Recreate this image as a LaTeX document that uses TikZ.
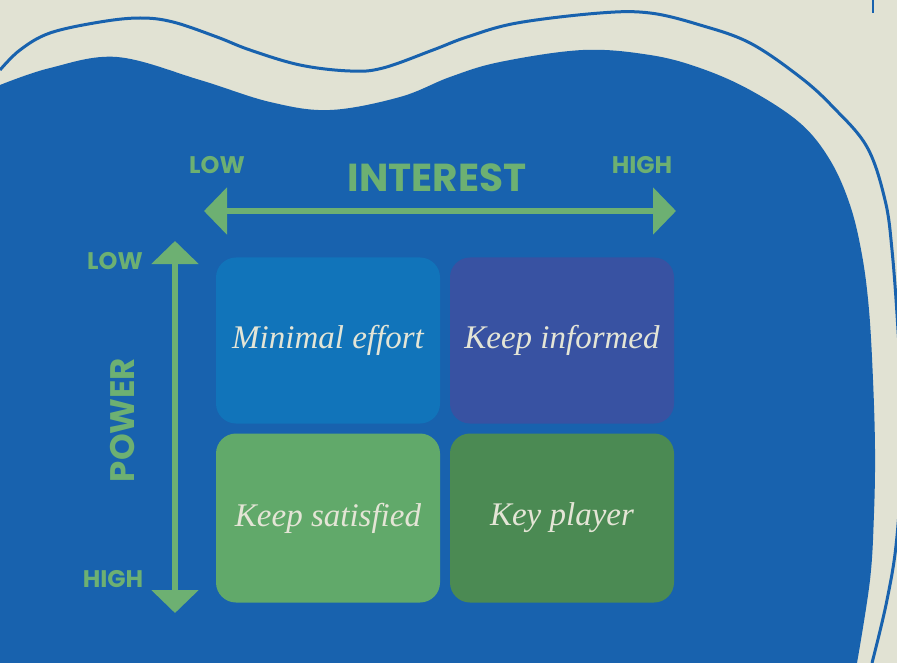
\documentclass[tikz,border=0pt]{standalone}
\usepackage{fontspec}
\setmainfont{Liberation Serif}
\newfontfamily\chunkyfont{Poppins}
\usetikzlibrary{positioning, arrows.meta}
\definecolor{paper}{HTML}{E1E2D3}
\definecolor{sea}{HTML}{1862AE}
\definecolor{leaf}{HTML}{6DB072}
\definecolor{cream}{HTML}{E4E5D6}
\definecolor{quadA}{HTML}{1174BA}
\definecolor{quadB}{HTML}{3852A2}
\definecolor{quadC}{HTML}{61A96A}
\definecolor{quadD}{HTML}{4B8A53}

\begin{document}
\begin{tikzpicture}
	[x=1pt, y=-1pt,
	 quad/.style={rectangle, rounded corners=20pt, outer sep=0pt, inner sep=0pt,
	              minimum width=224pt, minimum height=166pt, text=cream,
	              font=\fontsize{33}{38}\selectfont\itshape},
	 tag/.style={text=leaf, inner sep=0pt, font=\chunkyfont\bfseries\fontsize{24}{28}\selectfont},
	 bigtag/.style={tag, font=\chunkyfont\bfseries\fontsize{39}{44}\selectfont},
	 axis/.style={draw=leaf, line width=6pt,
	              {Triangle[length=23pt, width=46pt]}-{Triangle[length=23pt, width=46pt]}},
	 node distance=10pt]
	\useasboundingbox (0,0) rectangle (897,663);
	\clip (0,0) rectangle (897,663);
	\fill[paper] (0,0) rectangle (897,663);

	% background wave and its outline
	\fill[sea] (0,663) -- plot[smooth, tension=0.6] coordinates {(0,85) (50,68) (117,57) (200,80)
		(270,102) (330,110) (400,97) (450,77) (500,62) (583,50) (650,55) (700,68) (750,90)
		(800,123) (830,160) (850,205) (862,255) (869,310) (873,380) (875,450) (874,513)
		(870,580) (857,663)} -- cycle;
	\draw[sea, line width=3pt] plot[smooth, tension=0.6] coordinates {(0,70) (20,50) (50,33)
		(100,22) (140,18) (173,22) (217,37) (250,50) (300,65) (350,71) (383,68) (433,50)
		(467,37) (517,23) (600,13) (650,13) (700,25) (750,43) (800,77) (833,107) (867,147)
		(885,200) (892,250) (898,330) (903,430) (897,536) (887,600) (872,663)};
	\draw[sea, line width=1.5pt] (873,0) -- (873,13);

	\node[quad, fill=quadA] (minimal) at (328,340.5) {Minimal effort};
	\node[quad, fill=quadB, right=of minimal] (informed) {Keep informed};
	\node[quad, fill=quadC, below=of minimal, minimum height=169pt] (satisfied) {Keep satisfied};
	\node[quad, fill=quadD, below=of informed, minimum height=169pt] (player) {Key player};

	\coordinate (ilow) at (204,211);
	\coordinate (ihigh) at (676,211);
	\coordinate (plow) at (175,241);
	\coordinate (phigh) at (175,613);
	\draw[axis] (ilow) -- (ihigh);
	\draw[axis] (plow) -- (phigh);

	\node[tag] (ilowtag) at (217,165) {LOW};
	\node[tag] (ihightag) at (642,165) {HIGH};
	\node[bigtag] (interest) at (437,178) {INTEREST};
	\node[tag] (plowtag) at (115,261) {LOW};
	\node[tag] (phightag) at (113,579) {HIGH};
	\node[bigtag, rotate=90, font=\chunkyfont\bfseries\fontsize{34}{38}\selectfont] (power) at (123,420) {POWER};
\end{tikzpicture}
\end{document}
